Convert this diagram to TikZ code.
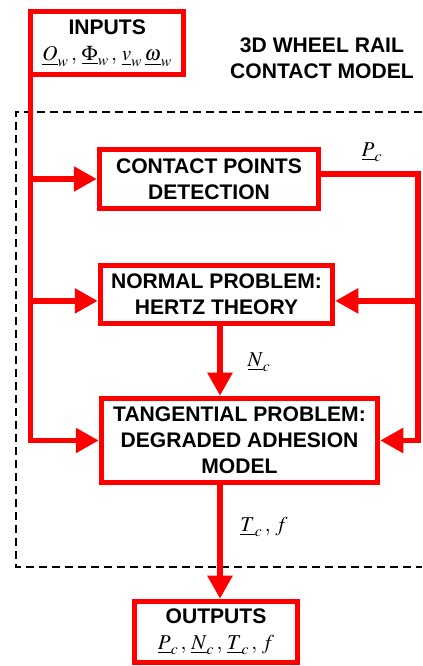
\documentclass[tikz,border=0pt]{standalone}
\usepackage{mathptmx}
\usepackage{fontspec}
\setmainfont{Liberation Sans}
\usepackage{tikz}
\usetikzlibrary{arrows.meta,calc,positioning}
\newcommand\flowfont{\fontsize{15}{18.5}\selectfont}
\newcommand\sep{\,,\,} % loose comma as in the figure
\tikzset{%
  >={Triangle[length=0.575cm,width=0.6cm]}, % big filled heads
  flow/.style={draw=red,line width=0.1375cm},%
  block/.style={draw=red,line width=0.1375cm,fill=white,align=center,
    inner sep=0pt,font=\flowfont\bfseries},%
  frame/.style={black,line width=0.04cm,dash pattern=on 0.2cm off 0.125cm}%
}

\begin{document}
\begin{tikzpicture}[font=\flowfont]
    \useasboundingbox (0,0) rectangle (10.55,16.65);
    % dashed frame of the model, open on the right
    \draw[frame] (10.55,13.85) -- (0.4,13.85) -- (0.4,2.475) -- (10.55,2.475);
    
    \node[block,outer sep=0pt,minimum width=3.825cm,minimum height=1.575cm]
      (inputs) at (2.68,15.57) {INPUTS\\$\underline{O}_w\sep\underline{\Phi}_w\sep\underline{v}_w\,\underline{\omega}_w$};
    \node[font=\flowfont\bfseries,align=center] (title) at (8.05,15.2)
      {3D WHEEL RAIL\\CONTACT MODEL};
    
    \node[block,minimum width=5.475cm,minimum height=1.475cm]
      (contact) at (5.225,12.175) {CONTACT POINTS\\DETECTION};
    \node[block,minimum width=5.8cm,minimum height=1.45cm]
      (normal) at (5.4125,9.2875) {NORMAL PROBLEM:\\HERTZ THEORY};
    \node[block,minimum width=6.9cm,minimum height=2.1cm]
      (tang) at (5.9875,5.6375) {TANGENTIAL PROBLEM:\\DEGRADED ADHESION\\MODEL};
    \node[block,minimum width=4.075cm,minimum height=1.525cm]
      (outputs) at (5.4,0.85) {OUTPUTS\\$\underline{P}_c\sep\underline{N}_c\sep\underline{T}_c\sep f$};
    
    \coordinate (axis) at (5.5,0); % common vertical line
    \coordinate (lbend) at (inputs.south west |- tang.west);
    \coordinate (rbend) at (10.45,5.6375);
    \coordinate (nwin) at ([yshift=-0.16cm]normal.west);
    \coordinate (nein) at ([yshift=-0.16cm]normal.east);
    
    % inputs to every block
    \draw[flow,->] (inputs.south west) -- (lbend) -- (tang.west);
    \draw[flow,->] (inputs.south west |- contact.west) -- (contact.west);
    \draw[flow,->] (lbend |- nwin) -- (nwin);
    
    % contact points fed back on the right
    \draw[flow,->] ([yshift=0.125cm]contact.east) -| (rbend) -- (tang.east);
    \draw[flow,->] (rbend |- nein) -- (nein);
    
    \draw[flow,->] (normal.south -| axis) -- (tang.north -| axis);
    \draw[flow,->] (tang.south -| axis) -- (outputs.north -| axis);
    
    \node (pc) at (9.3,12.85) {$\underline{P}_c$};
    \node (nc) at (6.475,7.6) {$\underline{N}_c$};
    \node (tc) at (6.6,3.475) {$\underline{T}_c\sep f$};
\end{tikzpicture}
\end{document}
